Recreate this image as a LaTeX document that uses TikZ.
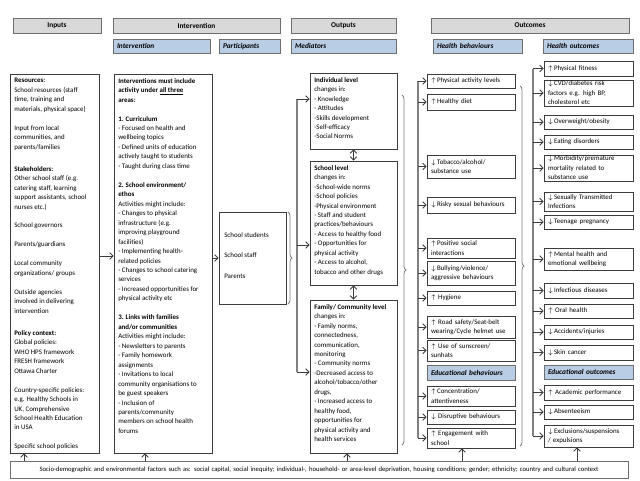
\documentclass[tikz,border=0pt]{standalone}
\usepackage{fontspec}
\setmainfont{Carlito}
\usetikzlibrary{arrows.meta,decorations.pathreplacing,shadows}
\definecolor{hdrfill}{HTML}{D9D9D9}
\definecolor{hdrdraw}{HTML}{6E6E6E}
\definecolor{subfill}{HTML}{B9CDE5}
\definecolor{boxdraw}{HTML}{3C3C3C}
\definecolor{linec}{HTML}{808080}
\newcommand\UpA{$\uparrow$}
\newcommand\DnA{$\downarrow$}
% style, name, x1, y1, x2, y2, text
\newcommand\mybox[7]{\node[#1, minimum width={(#5-#3)*0.75pt}, minimum height={(#6-#4)*0.75pt}, text width={(#5-#3-8)*0.75pt}, inner xsep=3pt, inner ysep=0pt] (#2) at ({(#3+#5)/2},{(#4+#6)/2}) {#7};}
\begin{document}
\begin{tikzpicture}[x=0.75pt,y=-0.75pt,
 hdr/.style={draw=hdrdraw, fill=hdrfill, line width=0.7pt, align=center, font=\fontsize{5.5}{6.5}\selectfont\bfseries, drop shadow={shadow xshift=0.6pt,shadow yshift=-0.6pt,fill=black!40}},
 sub/.style={draw=hdrdraw, fill=subfill, line width=0.7pt, align=left, font=\fontsize{5.5}{6.5}\selectfont\bfseries\itshape, drop shadow={shadow xshift=0.6pt,shadow yshift=-0.6pt,fill=black!40}},
 strp/.style={draw=hdrdraw, fill=white, line width=0.7pt, align=center, font=\fontsize{5}{6}\selectfont, drop shadow={shadow xshift=0.6pt,shadow yshift=-0.6pt,fill=black!40}},
 cbox/.style={draw=boxdraw, line width=0.6pt, align=left, font=\fontsize{5.2}{7.1}\selectfont},
 frame/.style={draw=boxdraw, line width=0.6pt},
 txt/.style={anchor=north west, inner sep=0pt, align=left, font=\fontsize{5.2}{7.1}\selectfont},
 conn/.style={draw=linec, line width=0.8pt},
 arr/.style={-{Straight Barb[length=2.5pt,width=5pt]}, draw=boxdraw, line width=0.6pt},
 darr/.style={{Straight Barb[length=2.5pt,width=5pt]}-{Straight Barb[length=2.5pt,width=5pt]}, draw=boxdraw, line width=0.6pt},
 brc/.style={draw=linec, line width=0.6pt, decorate, decoration={brace, amplitude=3pt}}
]
\useasboundingbox (0,0) rectangle (640,480);

% headers
\mybox{hdr}{hInputs}{13}{18}{101}{33}{Inputs}
\mybox{hdr}{hInterv}{113}{18}{280}{33}{Intervention}
\mybox{sub}{sInterv}{113}{39}{210}{53}{Intervention}
\mybox{sub}{sPart}{219}{39}{280}{53}{Participants}
\mybox{hdr}{hOut}{291}{18}{396}{33}{Outputs}
\mybox{sub}{sMed}{291}{39}{396}{53}{Mediators}
\mybox{hdr}{hOutc}{431}{18}{629}{33}{Outcomes}
\mybox{sub}{sHB}{433}{39}{522}{53}{Health behaviours}
\mybox{sub}{sHO}{543}{39}{633}{53}{Health outcomes}

% inputs
\mybox{frame}{inputs}{10}{74}{99}{453}{}
\node[txt] (tInputs) at (14,78) {\textbf{Resources:}\\
School resources (staff\\ time, training and\\ materials, physical space)\\[7.1pt]
Input from local\\ communities, and\\ parents/families\\[9.5pt]
\textbf{Stakeholders:}\\
Other school staff (e.g.\\ catering staff, learning\\ support assistants, school\\ nurses etc.)\\[7.1pt]
School governors\\[7.1pt]
Parents/guardians\\[7.1pt]
Local community\\ organizations/ groups\\[7.1pt]
Outside agencies\\ involved in delivering\\ intervention\\[9.5pt]
\textbf{Policy context:}\\
Global policies:\\ WHO HPS framework\\ FRESH framework\\ Ottawa Charter\\[7.1pt]
Country-specific policies:\\ e.g. Healthy Schools in\\ UK, Comprehensive\\ School Health Education\\ in USA\\[7.1pt]
Specific school policies};

% intervention
\mybox{frame}{interv}{114}{74}{212}{453}{}
\node[txt] (tInterv) at (118,78) {\textbf{Interventions must include}\\
\textbf{activity under \underline{all three}}\\ \textbf{areas:}\\[7.1pt]
\textbf{1. Curriculum}\\
- Focused on health and\\ wellbeing topics\\
- Defined units of education\\ actively taught to students\\
- Taught during class time\\[7.1pt]
\textbf{2. School environment/}\\ \textbf{ethos}\\
Activities might include:\\
- Changes to physical\\ infrastructure (e.g.\\ improving playground\\ facilities)\\
- Implementing health-\\ related policies\\
- Changes to school catering\\ services\\
- Increased opportunities for\\ physical activity etc\\[7.1pt]
\textbf{3. Links with families}\\ \textbf{and/or communities}\\
Activities might include:\\
- Newsletters to parents\\
- Family homework\\ assignments\\
- Invitations to local\\ community organisations to\\ be guest speakers\\
- Inclusion of\\ parents/community\\ members on school health\\ forums};

% participants
\mybox{frame}{part}{219}{212}{286}{304}{}
\node[txt] (tPart) at (224,232) {School students\\[8.5pt] School staff\\[8.5pt] Parents};

% mediators
\mybox{frame}{indiv}{310}{73}{397}{149}{}
\node[txt] (tIndiv) at (314,77) {\textbf{Individual level}\\ changes in:\\ - Knowledge\\ - Attitudes\\ -Skills development\\ -Self-efficacy\\ -Social Norms};
\mybox{frame}{school}{310}{161}{397}{285}{}
\node[txt] (tSchool) at (314,165) {\textbf{School level}\\ changes in:\\ -School-wide norms\\ -School policies\\ -Physical environment\\ - Staff and student\\ practices/behaviours\\ - Access to healthy food\\ - Opportunities for\\ physical activity\\ - Access to alcohol,\\ tobacco and other drugs};
\mybox{frame}{family}{310}{300}{397}{453}{}
\node[txt] (tFamily) at (314,304) {\textbf{Family/ Community level}\\ changes in:\\ - Family norms,\\ connectedness,\\ communication,\\ monitoring\\ - Community norms\\ -Decreased access to\\ alcohol/tobacco/other\\ drugs,\\ - Increased access to\\ healthy food,\\ opportunities for\\ physical activity and\\ health services};

% health behaviours
\mybox{cbox}{hb1}{427}{74}{515}{88}{\UpA\,Physical activity levels}
\mybox{cbox}{hb2}{427}{94}{515}{110}{\UpA\,Healthy diet}
\mybox{cbox}{hb3}{427}{155}{515}{178}{\DnA\,Tobacco/alcohol/\\ substance use}
\mybox{cbox}{hb4}{427}{197}{515}{213}{\DnA\,Risky sexual behaviours}
\mybox{cbox}{hb5}{427}{238}{515}{258}{\UpA\,Positive social\\ interactions}
\mybox{cbox}{hb6}{427}{261}{515}{285}{\DnA\,Bullying/violence/\\ aggressive behaviours}
\mybox{cbox}{hb7}{427}{291}{515}{305}{\UpA\ Hygiene}
\mybox{cbox}{hb8}{427}{316}{515}{338}{\UpA\ Road safety/Seat-belt\\ wearing/Cycle helmet use}
\mybox{cbox}{hb9}{427}{340}{515}{361}{\UpA\ Use of sunscreen/\\ sunhats}
\mybox{sub}{hbE}{427}{365}{515}{380}{Educational behaviours}
\mybox{cbox}{hb10}{427}{386}{515}{406}{\UpA\,Concentration/\\ attentiveness}
\mybox{cbox}{hb11}{427}{410}{515}{424}{\DnA\ Disruptive behaviours}
\mybox{cbox}{hb12}{427}{428}{515}{448}{\UpA\ Engagement with\\ school}

% health outcomes
\mybox{cbox}{ho1}{544}{61}{633}{76}{\UpA\,Physical fitness}
\mybox{cbox}{ho2}{544}{80}{633}{106}{\DnA\,CVD/diabetes risk\\ factors e.g. high BP,\\ cholesterol etc}
\mybox{cbox}{ho3}{544}{115}{633}{129}{\DnA\,Overweight/obesity}
\mybox{cbox}{ho4}{544}{135}{633}{149}{\DnA\,Eating disorders}
\mybox{cbox}{ho5}{544}{155}{633}{181}{\DnA\,Morbidity/premature\\ mortality related to\\ substance use}
\mybox{cbox}{ho6}{544}{192}{633}{211}{\DnA\,Sexually Transmitted\\ Infections}
\mybox{cbox}{ho7}{544}{215}{633}{229}{\DnA\,Teenage pregnancy}
\mybox{cbox}{ho8}{544}{248}{633}{270}{\UpA\,Mental health and\\ emotional wellbeing}
\mybox{cbox}{ho9}{544}{283}{633}{298}{\DnA\,Infectious diseases}
\mybox{cbox}{ho10}{544}{304}{633}{318}{\UpA\ Oral health}
\mybox{cbox}{ho11}{544}{325}{633}{339}{\DnA\,Accidents/injuries}
\mybox{cbox}{ho12}{544}{345}{633}{360}{\DnA\,Skin cancer}
\mybox{sub}{hoE}{544}{365}{633}{379}{Educational outcomes}
\mybox{cbox}{ho13}{544}{385}{633}{400}{\UpA\ Academic performance}
\mybox{cbox}{ho14}{544}{405}{633}{419}{\DnA\,Absenteeism}
\mybox{cbox}{ho15}{544}{425}{633}{447}{\DnA\,Exclusions/suspensions\\ / expulsions}

% bottom strip
\mybox{strp}{strip}{10}{461}{628}{478}{Socio-demographic and environmental factors such as: social capital, social inequity; individual-, household- or area-level deprivation, housing conditions; gender; ethnicity; country and cultural context}

% inputs -> intervention -> participants
\draw[arr] (inputs.east |- 0,256) -- (interv.west |- 0,256);
\draw[arr] (interv.east |- 0,258) -- (part.west |- 0,258);

% participants brace and distribution line
\draw[brc] (288,212) -- (288,304);
\coordinate (pTop) at (297,99);
\coordinate (pMid) at (297,245);
\coordinate (pBot) at (297,372);
\draw[conn] (pTop) -- (pBot);
\draw[arr] (pTop) -- (pTop -| indiv.west);
\draw[arr] (pMid) -- (pMid -| school.west);
\draw[arr] (pBot) -- (pBot -| family.west);
\draw[darr] (indiv.south) -- (school.north);
\draw[darr] (school.south) -- (family.north);

% mediators brace and behaviour line
\draw[brc] (402,95) -- (402,445);
\coordinate (bTop) at (418,81);
\coordinate (bBot) at (418,438);
\draw[conn] (bTop) -- (bBot);
\foreach \n in {hb1,hb2,hb3,hb4,hb5,hb6,hb7,hb8,hb9,hb10,hb11,hb12}
  \draw[arr] (\n.west -| bTop) -- (\n.west);

% behaviours brace and outcome line
\draw[brc] (520,86) -- (520,446);
\coordinate (oTop) at (533,68.5);
\coordinate (oBot) at (533,436);
\draw[conn] (oTop) -- (oBot);
\foreach \n in {ho1,ho2,ho3,ho4,ho5,ho6,ho7,ho8,ho9,ho10,ho11,ho12,ho13,ho14,ho15}
  \draw[arr] (\n.west -| oTop) -- (\n.west);

% context arrows
\coordinate (u1) at (24,0);
\coordinate (u2) at (145,0);
\coordinate (u3) at (347,0);
\coordinate (u4) at (462,0);
\coordinate (u5) at (577,0);
\draw[arr] (strip.north -| u1) -- (inputs.south -| u1);
\draw[arr] (strip.north -| u2) -- (interv.south -| u2);
\draw[arr] (strip.north -| u3) -- (family.south -| u3);
\draw[arr] (strip.north -| u4) -- (hb12.south -| u4);
\draw[arr] (strip.north -| u5) -- (ho15.south -| u5);
\end{tikzpicture}
\end{document}
